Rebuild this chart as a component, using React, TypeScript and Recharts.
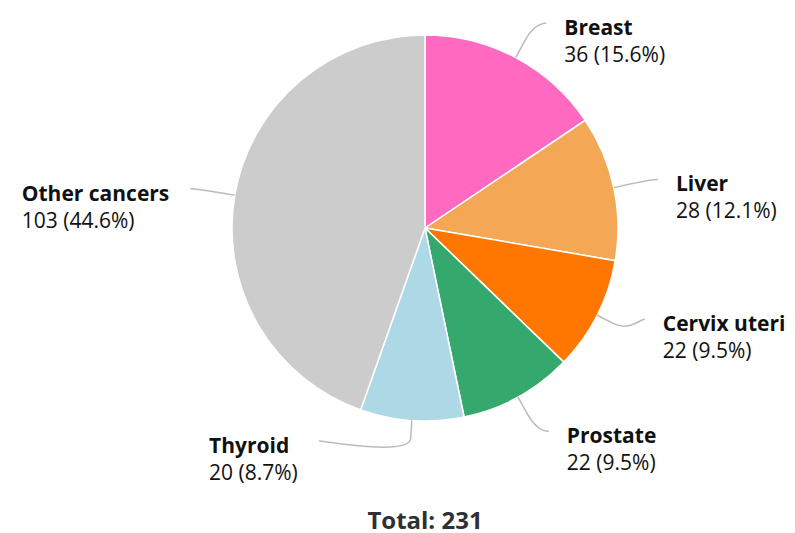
import React from 'react';
import { PieChart, Pie, Cell } from 'recharts';

const categories = ['Breast', 'Liver', 'Cervix uteri', 'Prostate', 'Thyroid', 'Other cancers'];
const counts = [36, 28, 22, 22, 20, 103];
const colors = ['#ff69c0', '#f4a755', '#ff7700', '#35a86e', '#add8e6', '#cccccc'];

const total = counts.reduce((a, b) => a + b, 0);
const data = categories.map((name, i) => ({ name, value: counts[i] }));

const W = 795;
const H = 533;
const CX = 425;
const CY = 228;
const R = 193;
const FONT = "'Open Sans', sans-serif";
const FS = 21;

// label layout (highcharts-like)
const R_NAT = 232;
const R_X = 238;
const R_BREAK = R + 18;
const BOUND = 213;
const MIN_GAP = 112;
const TEXT_GAP = 18;
const TEXT_GAP_LEFT = 21;

let ctx: CanvasRenderingContext2D | null = null;
const textWidth = (s: string, weight: string) => {
  if (!ctx) ctx = document.createElement('canvas').getContext('2d');
  if (!ctx) return s.length * FS * 0.55;
  ctx.font = `${weight} ${FS}px ${FONT}`;
  return ctx.measureText(s).width;
};

type Lay = { theta: number; side: number; y: number; x: number };

const buildLayout = (): Lay[] => {
  let acc = 0;
  const out: Lay[] = counts.map((v) => {
    const span = (v / total) * 360;
    const theta = ((acc + span / 2) * Math.PI) / 180;
    acc += span;
    const side = Math.sin(theta) >= 0 ? 1 : -1;
    const y = Math.max(CY - BOUND, Math.min(CY + BOUND, CY - R_NAT * Math.cos(theta)));
    return { theta, side, y, x: 0 };
  });
  [1, -1].forEach((s) => {
    const idx = out.map((l, i) => i).filter((i) => out[i].side === s).sort((a, b) => out[a].y - out[b].y);
    for (let k = idx.length - 2; k >= 0; k--) {
      out[idx[k]].y = Math.min(out[idx[k]].y, out[idx[k + 1]].y - MIN_GAP);
    }
    for (let k = 1; k < idx.length; k++) {
      out[idx[k]].y = Math.max(out[idx[k]].y, out[idx[k - 1]].y + MIN_GAP);
    }
  });
  out.forEach((l) => {
    const dy = l.y - CY;
    l.x = CX + l.side * Math.sqrt(Math.max(0, R_X * R_X - dy * dy));
  });
  return out;
};

const layout = buildLayout();

const renderLabel = (props: any) => {
  const { index } = props;
  const l = layout[index];
  const sx = Math.sin(l.theta);
  const sy = -Math.cos(l.theta);
  const touch = { x: CX + R * sx, y: CY + R * sy };
  const brk = { x: CX + R_BREAK * sx, y: CY + R_BREAK * sy };
  const d = `M${l.x},${l.y} C${l.x - l.side * 5},${l.y} ${2 * brk.x - touch.x},${2 * brk.y - touch.y} ${brk.x},${brk.y} L${touch.x},${touch.y}`;
  const line1 = categories[index];
  const line2 = `${counts[index]} (${((counts[index] / total) * 100).toFixed(1)}%)`;
  let tx = l.x + TEXT_GAP;
  if (l.side < 0) {
    const w = Math.max(textWidth(line1, 'bold'), textWidth(line2, 'normal'));
    tx = l.x - TEXT_GAP_LEFT - w;
  }
  return (
    <g key={`lbl-${index}`}>
      <path d={d} fill="none" stroke="#bbbbbb" strokeWidth={1.5} />
      <text x={tx} y={l.y + 12} fontFamily={FONT} fontSize={FS} fontWeight="bold" fill="#111">
        {line1}
      </text>
      <text x={tx} y={l.y + 39} fontFamily={FONT} fontSize={FS} fill="#111">
        {line2}
      </text>
    </g>
  );
};

export default function App() {
  return (
    <div style={{ position: 'absolute', left: 0, top: 0, width: W, height: H }}>
      <PieChart width={W} height={H} margin={{ top: 0, right: 0, bottom: 0, left: 0 }}>
        <Pie
          data={data}
          dataKey="value"
          nameKey="name"
          cx={CX}
          cy={CY}
          outerRadius={R}
          startAngle={90}
          endAngle={-270}
          stroke="#ffffff"
          strokeWidth={1.5}
          label={renderLabel}
          labelLine={false}
          isAnimationActive={false}
        >
          {data.map((d, i) => (
            <Cell key={d.name} fill={colors[i]} />
          ))}
        </Pie>
      </PieChart>
      <svg width={W} height={H} style={{ position: 'absolute', left: 0, top: 0, pointerEvents: 'none' }}>
        <text x={425} y={529} textAnchor="middle" fontFamily={FONT} fontSize={24} fontWeight="bold" fill="#2e3033">
          Total: {total}
        </text>
      </svg>
    </div>
  );
}
